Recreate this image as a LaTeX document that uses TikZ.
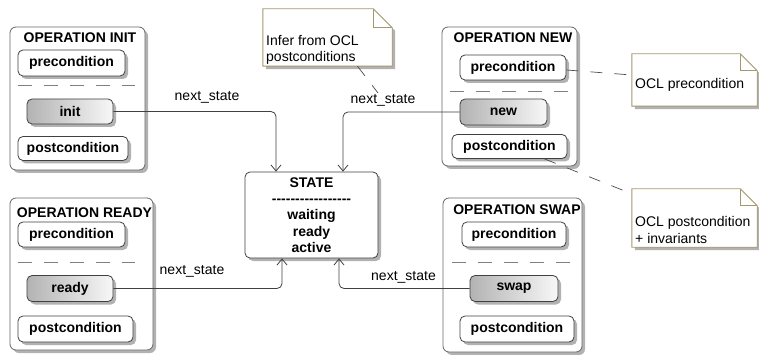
\documentclass[tikz,border=0pt]{standalone}
\usepackage{fontspec}
\setmainfont{Liberation Sans}
\usetikzlibrary{arrows.meta,shadows}
\definecolor{notebord}{RGB}{163,152,110}
\newcommand\hy{-\kern0pt}
\newcommand\notedraw[2]{%
  \fill[black!30] ([shift={(3pt,-3pt)}]#1.north west) -- ([shift={(3pt-#2,-3pt)}]#1.north east) -- ([shift={(3pt,-3pt-#2)}]#1.north east) -- ([shift={(3pt,-3pt)}]#1.south east) -- ([shift={(3pt,-3pt)}]#1.south west) -- cycle;
  \filldraw[draw=notebord, line width=0.9pt, fill=white] (#1.north west) -- ([xshift=-#2]#1.north east) -- ([yshift=-#2]#1.north east) -- (#1.south east) -- (#1.south west) -- cycle;
  \draw[draw=notebord, line width=0.9pt] ([xshift=-#2]#1.north east) |- ([yshift=-#2]#1.north east);
}
\tikzset{
  tb/.style={font=\fontsize{14}{16}\selectfont\bfseries},
  tn/.style={font=\fontsize{14}{16}\selectfont},
  shad/.style={drop shadow={shadow xshift=3pt, shadow yshift=-3pt, fill=black!30, opacity=1}},
  opbox/.style={draw=black!60, line width=0.8pt, rounded corners=6pt, fill=white, shad, inner sep=0pt},
  inbox/.style={draw=black!75, line width=0.8pt, rounded corners=5pt, fill=white, shad, tb, inner sep=0pt},
  act/.style={inbox, left color=black!30, right color=black!3},
  title/.style={tb, inner sep=0pt},
  lbl/.style={tn, inner sep=0pt},
  arr/.style={draw=black!75, line width=0.8pt, -{Straight Barb[length=6pt,width=10pt]}, rounded corners=5pt},
  sepline/.style={draw=black!50, line width=0.8pt, dash pattern=on 14pt off 12pt},
  nline/.style={draw=black!70, line width=0.7pt, dash pattern=on 12pt off 12pt},
  notebox/.style={draw=none, inner sep=0pt},
  notetext/.style={tn, align=left, inner sep=0pt, font=\fontsize{14}{16}\selectfont}
}
\begin{document}
\begin{tikzpicture}[x=1pt,y=-1pt]
\useasboundingbox (0,0) rectangle (759,355);

% ---------- OPERATION INIT ----------
\node[opbox, minimum width=135pt, minimum height=143pt] (opinit) at (77.5,98.5) {};
\node[title] (initT) at (80,38) {OPERATION INIT};
\node[inbox, minimum width=107pt, minimum height=26pt] (preinit) at (71.5,63) {precondition};
\draw[sepline] (18,85) -- (135,85);
\node[act, minimum width=86pt, minimum height=25pt] (init) at (70,111.5) {init};
\node[inbox, minimum width=110pt, minimum height=24pt] (postinit) at (73,148.5) {postcondition};

% ---------- OPERATION READY ----------
\node[opbox, minimum width=143pt, minimum height=152pt] (opready) at (81.5,274) {};
\node[title] (readyT) at (84.5,213) {OPERATION READY};
\node[inbox, minimum width=107pt, minimum height=25pt] (preready) at (71.5,234.5) {precondition};
\draw[sepline] (18,262) -- (135,262);
\node[act, minimum width=86pt, minimum height=26pt] (ready) at (70,288.5) {ready};
\node[inbox, minimum width=115pt, minimum height=26pt] (postready) at (75.5,329) {postcondition};

% ---------- OPERATION NEW ----------
\node[opbox, minimum width=135pt, minimum height=139pt] (opnew) at (509.5,96.5) {};
\node[title] (newT) at (513,38) {OPERATION NEW};
\node[inbox, minimum width=106pt, minimum height=25pt] (prenew) at (513,67.5) {precondition};
\draw[sepline] (450,91) -- (570,91);
\node[act, minimum width=87pt, minimum height=26pt] (new) at (503.5,112) {new};
\node[inbox, minimum width=115pt, minimum height=24pt] (postnew) at (509.5,146.5) {postcondition};

% ---------- OPERATION SWAP ----------
\node[opbox, minimum width=139pt, minimum height=154pt] (opswap) at (512.5,275) {};
\node[title] (swapT) at (517,210) {OPERATION SWAP};
\node[inbox, minimum width=104pt, minimum height=25pt] (preswap) at (514,234.5) {precondition};
\draw[sepline] (452,262) -- (572,262);
\node[act, minimum width=88pt, minimum height=26pt] (swap) at (514,288.5) {swap};
\node[inbox, minimum width=114pt, minimum height=26pt] (postswap) at (517,329) {postcondition};

% ---------- STATE ----------
\node[inbox, minimum width=133pt, minimum height=86pt, align=center,
      font=\fontsize{14}{16.3}\selectfont\bfseries] (state) at (311.5,215)
  {STATE\\\hy\hy\hy\hy\hy\hy\hy\hy\hy\hy\hy\hy\hy\hy\hy\hy\hy\\waiting\\ready\\active};

% ---------- transitions ----------
\draw[arr] (init.east) -| ([xshift=-35.5pt]state.north);
\draw[arr] (new.west) -| ([xshift=31.5pt]state.north);
\draw[arr] (ready.east) -| ([xshift=-29.5pt]state.south);
\draw[arr] (swap.west) -| ([xshift=27.5pt]state.south);
\node[lbl] (l1) at (207,97) {next\_state};
\node[lbl] (l2) at (383,100) {next\_state};
\node[lbl] (l3) at (192,271) {next\_state};
\node[lbl] (l4) at (403.5,277) {next\_state};

% ---------- notes ----------
\node[notebox, minimum width=129pt, minimum height=57pt] (n1) at (327.5,37.5) {};
\notedraw{n1}{19pt}
\node[notetext, anchor=west] (n1t) at (266,49.5) {Infer from OCL\\postconditions};

\node[notebox, minimum width=125pt, minimum height=52pt] (n2) at (694.5,80) {};
\notedraw{n2}{17pt}
\node[notetext, anchor=west] (n2t) at (635,85) {OCL precondition};

\node[notebox, minimum width=125pt, minimum height=58pt] (n3) at (694.5,218) {};
\notedraw{n3}{17pt}
\node[notetext, anchor=west, font=\fontsize{14}{17}\selectfont] (n3t) at (635,229.5) {OCL postcondition\\+ invariants};

\coordinate (n1end) at (378,93);
\draw[nline] ([xshift=30pt]n1.south) -- (n1end);
\draw[nline] ([yshift=-2.5pt]prenew.east) -- ([yshift=5pt]n2.west);
\draw[nline] ([xshift=35pt]postnew.south) -- ([yshift=-5pt]n3.north west);
\end{tikzpicture}
\end{document}
